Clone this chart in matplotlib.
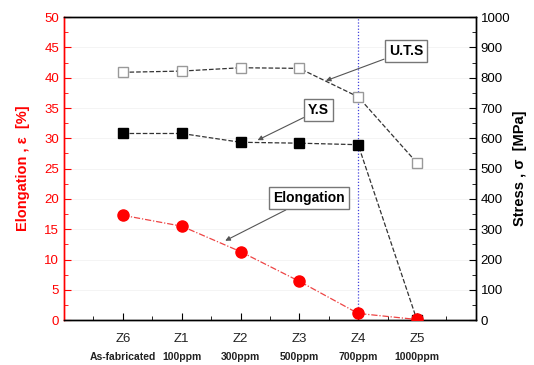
import numpy as np
import matplotlib.pyplot as plt
from matplotlib.ticker import MultipleLocator
import matplotlib.transforms as mtransforms

plt.rcParams['font.family'] = ['Liberation Sans', 'DejaVu Sans']

samples = ['Z6', 'Z1', 'Z2', 'Z3', 'Z4', 'Z5']
contents = ['As-fabricated', '100ppm', '300ppm', '500ppm', '700ppm', '1000ppm']
elong = [17.3, 15.5, 11.3, 6.4, 1.1, 0.1]
uts = [818, 822, 833, 831, 737, 519]
ys = [616, 616, 587, 584, 579, 0]

x = np.arange(len(samples))

fig = plt.figure(figsize=(5.34, 3.65), dpi=100)
ax = fig.add_axes([0.120, 0.123, 0.771, 0.830])
ax2 = ax.twinx()

# stress curves on right axis
ax2.plot(x, uts, ls='--', lw=0.9, color='#333333', marker='s', ms=7,
         mfc='white', mec='#999999', mew=1.0, zorder=3)
ax2.plot(x, ys, ls='--', lw=0.9, color='#333333', marker='s', ms=7,
         mfc='black', mec='black', zorder=3)
ax2.axvline(4, color='#4444dd', lw=0.9, ls=(0, (1, 1.5)), zorder=1)

# elongation on left axis
ax.plot(x, elong, ls=(0, (5, 1.5, 1, 1.5)), lw=0.9, color='#ee4444',
        marker='o', ms=8, mfc='red', mec='red', zorder=3)
ax.set_zorder(ax2.get_zorder() + 1)
ax.patch.set_visible(False)

ax.set_xlim(-1, 6)
ax.set_ylim(0, 50)
ax2.set_ylim(0, 1000)

ax.yaxis.set_major_locator(MultipleLocator(5))
ax.yaxis.set_minor_locator(MultipleLocator(2.5))
ax2.yaxis.set_major_locator(MultipleLocator(100))
ax2.yaxis.set_minor_locator(MultipleLocator(50))
ax.set_xticks(x)
ax.set_xticks(np.arange(-0.5, 6, 1), minor=True)
ax.set_xticklabels([])

ax.tick_params(axis='y', which='both', direction='in', colors='red',
               labelsize=9.5, right=False)
ax.tick_params(axis='y', which='major', length=5)
ax.tick_params(axis='y', which='minor', length=3)
ax.tick_params(axis='x', which='major', direction='in', length=5, top=False)
ax.tick_params(axis='x', which='minor', direction='in', length=3, top=False)
ax2.tick_params(axis='y', which='both', direction='in', labelsize=9.5,
                colors='black')
ax2.tick_params(axis='y', which='major', length=5)
ax2.tick_params(axis='y', which='minor', length=3)

for a in (ax, ax2):
    for s in a.spines.values():
        s.set_linewidth(1.0)
ax.spines['left'].set_color('red')
ax2.spines['left'].set_color('red')

for yv in range(100, 1000, 100):
    ax2.axhline(yv, color='#f2f2f2', lw=0.6, zorder=0)

ax.set_ylabel('Elongation , \u03b5  [%]', color='red', fontsize=10.5,
              fontweight='bold', labelpad=10)
ax2.set_ylabel('Stress , \u03c3  [MPa]', color='black', fontsize=10.5,
               fontweight='bold', labelpad=2)

trans = mtransforms.blended_transform_factory(ax.transData, fig.transFigure)
for xi, s, c in zip(x, samples, contents):
    ax.text(xi, 1 - 339 / 365, s, transform=trans, ha='center', va='center',
            fontsize=9.5, color='#222222')
    ax.text(xi, 1 - 357 / 365, c, transform=trans, ha='center', va='center',
            fontsize=7.5, fontweight='bold', color='#222222')

box = dict(boxstyle='square,pad=0.3', fc='white', ec='#777777', lw=1.0)
arrow = dict(arrowstyle='-|>', color='#555555', lw=0.8, mutation_scale=7,
             shrinkA=0, shrinkB=0)
ax2.annotate('U.T.S', xy=(3.45, 790), xytext=(4.81, 888), ha='center',
             va='center', fontsize=10, fontweight='bold', bbox=box,
             arrowprops=arrow, zorder=5)
ax2.annotate('Y.S', xy=(2.29, 594), xytext=(3.33, 693), ha='center',
             va='center', fontsize=10, fontweight='bold', bbox=box,
             arrowprops=arrow, zorder=5)
ax.annotate('Elongation', xy=(1.74, 13.1), xytext=(3.16, 20.1), ha='center',
            va='center', fontsize=10, fontweight='bold', bbox=box,
            arrowprops=arrow, zorder=5)

fig.savefig('out.png', dpi=100)
